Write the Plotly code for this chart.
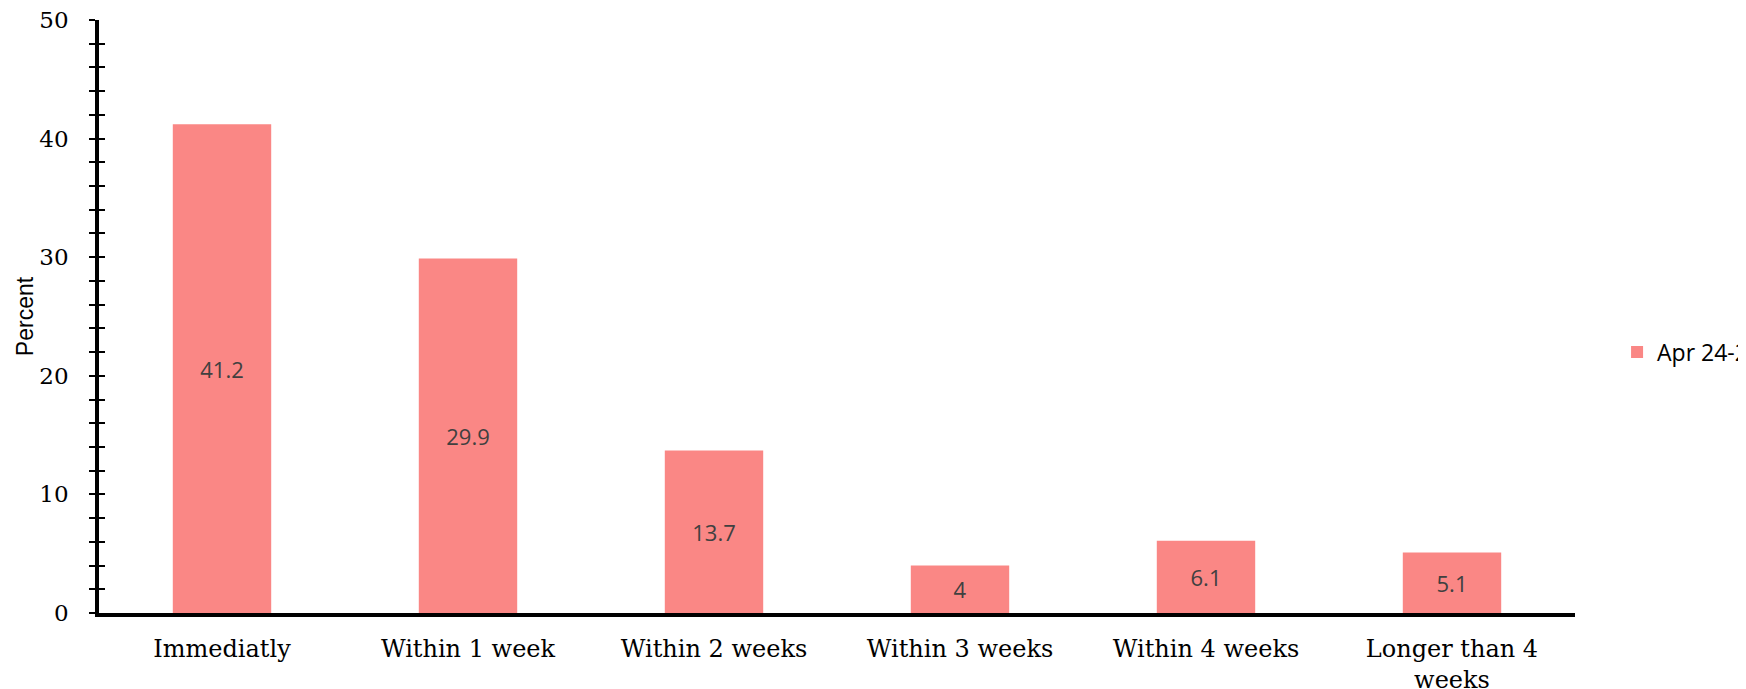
import plotly.graph_objects as go

categories = ["Immediatly", "Within 1 week", "Within 2 weeks", "Within 3 weeks",
              "Within 4 weeks", "Longer than 4<br>weeks"]
values = [41.2, 29.9, 13.7, 4, 6.1, 5.1]
series_name = "Apr 24-27"
y_ticks = [0, 10, 20, 30, 40, 50]

serif = "DejaVu Serif"
sans = "Open Sans"

fig = go.Figure()
fig.add_trace(go.Bar(
    x=categories, y=values, name=series_name,
    marker=dict(color="#FA8785", line=dict(width=0)),
    text=[str(v) for v in values], textposition="inside",
    insidetextanchor="middle", textangle=0,
    textfont=dict(family=sans, size=22, color="#404040"),
    showlegend=True,
))
# invisible trace on overlay axis to draw inward ticks (crossing ticks)
fig.add_trace(go.Scatter(x=[categories[0]], y=[None], yaxis="y2",
                         showlegend=False, hoverinfo="skip", mode="markers",
                         marker=dict(opacity=0)))

fig.update_layout(
    width=1760, height=681,
    margin=dict(l=91, r=193, t=12, b=76, autoexpand=False),
    paper_bgcolor="white", plot_bgcolor="white",
    bargap=0.6,
    xaxis=dict(
        automargin=False,
        showline=True, linecolor="black", linewidth=3.5,
        ticks="", showgrid=False,
        tickfont=dict(family=serif, size=24, color="black"),
        ticklabelstandoff=11, ticklabeloverflow="allow",
    ),
    yaxis=dict(
        automargin=False,
        range=[0, 50], tickvals=y_ticks,
        showline=True, linecolor="black", linewidth=3.5,
        ticks="outside", ticklen=6, tickwidth=2, tickcolor="black",
        minor=dict(dtick=2, ticks="outside", ticklen=6, tickwidth=2, tickcolor="black"),
        showgrid=False, zeroline=False,
        tickfont=dict(family=serif, size=23, color="black"),
        ticklabelstandoff=16, ticklabeloverflow="allow",
        title=dict(text="Percent", font=dict(family="Liberation Sans", size=23, color="black"),
                   standoff=0),
    ),
    yaxis2=dict(
        automargin=False,
        range=[0, 50], overlaying="y", side="left",
        tickvals=y_ticks, showticklabels=False,
        ticks="inside", ticklen=6, tickwidth=2, tickcolor="black",
        minor=dict(dtick=2, ticks="inside", ticklen=6, tickwidth=2, tickcolor="black"),
        showgrid=False, zeroline=False, showline=False,
    ),
    legend=dict(x=1.0285, y=0.44, xanchor="left", yanchor="middle",
                font=dict(family=sans, size=23, color="black"),
                bgcolor="rgba(0,0,0,0)"),
)

fig.write_html("out.html")
